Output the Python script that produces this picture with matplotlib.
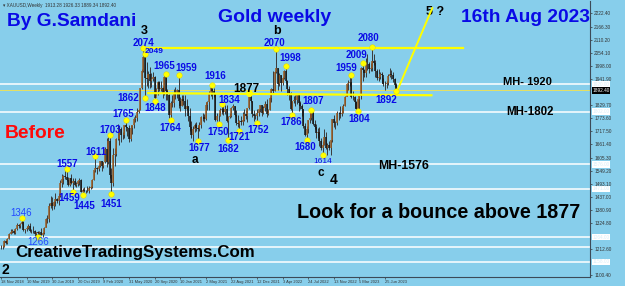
import matplotlib
matplotlib.use("Agg")
import matplotlib.pyplot as plt
import numpy as np

plt.rcParams['font.family'] = ['Liberation Sans', 'DejaVu Sans']

# weekly XAUUSD bars, week 0 = 18 Nov 2018
closes = [1223, 1222, 1248, 1238, 1257, 1279, 1285, 1289, 1282, 1298,
          1317, 1314, 1322, 1328, 1294, 1298, 1302, 1313, 1292, 1291,
          1290, 1276, 1286, 1280, 1286, 1275, 1283, 1305, 1341, 1341,
          1399, 1409, 1399, 1415, 1426, 1419, 1440, 1497, 1513, 1527,
          1520, 1507, 1488, 1516, 1497, 1504, 1488, 1490, 1504, 1511,
          1459, 1468, 1462, 1464, 1460, 1476, 1478, 1511, 1552, 1560,
          1557, 1571, 1589, 1570, 1584, 1643, 1585, 1674, 1530, 1498,
          1617, 1620, 1683, 1683, 1727, 1700, 1702, 1743, 1735, 1730,
          1684, 1730, 1743, 1771, 1774, 1799, 1810, 1902, 1975, 2035,
          1944, 1940, 1964, 1933, 1940, 1950, 1861, 1899, 1930, 1899,
          1902, 1879, 1951, 1889, 1871, 1788, 1839, 1839, 1881, 1883,
          1895, 1849, 1828, 1856, 1848, 1813, 1824, 1784, 1734, 1700,
          1727, 1745, 1733, 1728, 1744, 1777, 1777, 1769, 1832, 1844,
          1881, 1903, 1892, 1877, 1764, 1781, 1784, 1808, 1812, 1802,
          1814, 1763, 1779, 1781, 1817, 1827, 1788, 1754, 1750, 1761,
          1757, 1768, 1792, 1783, 1818, 1865, 1846, 1792, 1783, 1783,
          1798, 1811, 1829, 1797, 1817, 1835, 1791, 1807, 1859, 1898,
          1889, 1970, 1988, 1921, 1958, 1925, 1946, 1974, 1931, 1897,
          1883, 1811, 1846, 1853, 1850, 1871, 1840, 1827, 1811, 1742,
          1703, 1727, 1766, 1775, 1802, 1747, 1737, 1712, 1716, 1675,
          1644, 1660, 1695, 1644, 1657, 1645, 1681, 1771, 1751, 1754,
          1797, 1797, 1793, 1798, 1824, 1865, 1920, 1926, 1928, 1865,
          1865, 1842, 1811, 1856, 1868, 1989, 1978, 1969, 2007, 2004,
          1983, 1990, 2017, 2011, 1977, 1946, 1948, 1961, 1958, 1921,
          1919, 1925, 1955, 1962, 1959, 1943, 1914, 1892]
highs = [1230, 1229, 1250, 1252, 1261, 1284, 1298, 1298, 1297, 1303,
         1326, 1320, 1323, 1346, 1332, 1299, 1311, 1321, 1324, 1300,
         1310, 1295, 1288, 1290, 1289, 1303, 1287, 1306, 1348, 1358,
         1411, 1439, 1438, 1420, 1453, 1434, 1452, 1510, 1535, 1530,
         1555, 1557, 1522, 1518, 1535, 1519, 1516, 1499, 1506, 1517,
         1514, 1474, 1478, 1468, 1484, 1482, 1485, 1514, 1553, 1611,
         1563, 1575, 1590, 1592, 1588, 1649, 1689, 1692, 1703, 1560,
         1646, 1645, 1690, 1747, 1738, 1738, 1716, 1745, 1765, 1737,
         1745, 1745, 1746, 1779, 1789, 1818, 1815, 1905, 1984, 2075,
         2049, 2015, 1976, 1992, 1966, 1973, 1953, 1903, 1933, 1933,
         1932, 1912, 1960, 1966, 1900, 1876, 1848, 1875, 1897, 1906,
         1900, 1959, 1864, 1875, 1875, 1875, 1855, 1827, 1816, 1760,
         1740, 1755, 1756, 1740, 1758, 1785, 1797, 1790, 1845, 1846,
         1890, 1913, 1916, 1903, 1878, 1795, 1795, 1818, 1834, 1832,
         1832, 1832, 1781, 1795, 1823, 1834, 1828, 1809, 1787, 1764,
         1781, 1800, 1814, 1810, 1818, 1868, 1877, 1849, 1808, 1793,
         1815, 1814, 1831, 1831, 1828, 1848, 1854, 1815, 1865, 1902,
         1974, 1975, 2070, 1990, 1966, 1960, 1948, 1980, 1998, 1937,
         1910, 1885, 1849, 1870, 1874, 1875, 1879, 1848, 1834, 1812,
         1752, 1739, 1767, 1794, 1807, 1802, 1765, 1750, 1730, 1735,
         1688, 1674, 1729, 1714, 1668, 1675, 1682, 1772, 1787, 1760,
         1804, 1800, 1824, 1823, 1834, 1870, 1922, 1937, 1949, 1959,
         1890, 1870, 1846, 1858, 1870, 1993, 2009, 1985, 2032, 2048,
         2015, 2009, 2081, 2048, 2022, 1985, 1984, 1970, 1971, 1946,
         1935, 1935, 1963, 1987, 1982, 1971, 1947, 1926]
lows = [1214, 1212, 1221, 1234, 1235, 1256, 1276, 1280, 1279, 1276,
        1297, 1302, 1302, 1320, 1291, 1280, 1289, 1298, 1287, 1280,
        1283, 1270, 1266, 1266, 1267, 1273, 1267, 1278, 1306, 1324,
        1331, 1390, 1381, 1385, 1398, 1412, 1400, 1437, 1480, 1492,
        1513, 1506, 1485, 1484, 1490, 1459, 1483, 1480, 1484, 1487,
        1456, 1445, 1457, 1452, 1458, 1455, 1471, 1476, 1508, 1544,
        1536, 1546, 1563, 1547, 1562, 1582, 1563, 1576, 1518, 1451,
        1482, 1567, 1610, 1680, 1660, 1673, 1683, 1689, 1718, 1696,
        1670, 1677, 1704, 1733, 1756, 1763, 1795, 1808, 1900, 1970,
        1862, 1910, 1902, 1902, 1906, 1934, 1848, 1871, 1873, 1889,
        1890, 1860, 1875, 1850, 1853, 1775, 1764, 1823, 1820, 1855,
        1862, 1817, 1803, 1825, 1832, 1785, 1807, 1761, 1717, 1687,
        1677, 1714, 1719, 1677, 1721, 1730, 1760, 1756, 1768, 1808,
        1809, 1869, 1855, 1866, 1761, 1761, 1750, 1785, 1791, 1789,
        1790, 1758, 1682, 1773, 1777, 1808, 1782, 1745, 1737, 1721,
        1745, 1746, 1760, 1771, 1758, 1812, 1845, 1778, 1762, 1770,
        1753, 1785, 1802, 1783, 1790, 1806, 1780, 1788, 1807, 1842,
        1878, 1890, 1967, 1895, 1910, 1890, 1915, 1940, 1924, 1872,
        1850, 1807, 1787, 1838, 1828, 1836, 1805, 1814, 1784, 1732,
        1697, 1680, 1711, 1754, 1765, 1746, 1727, 1688, 1691, 1654,
        1639, 1614, 1659, 1641, 1617, 1639, 1617, 1670, 1737, 1727,
        1745, 1767, 1773, 1784, 1797, 1824, 1867, 1896, 1911, 1861,
        1852, 1819, 1809, 1804, 1809, 1858, 1934, 1949, 1950, 1981,
        1969, 1974, 1975, 2000, 1951, 1937, 1933, 1940, 1925, 1912,
        1893, 1902, 1918, 1952, 1943, 1928, 1907, 1889]

# pivot labels: week, price, text, label offset (px)
piv_weeks = [13, 23, 41, 45, 51, 69, 59, 68, 78, 90, 89, 90, 103, 111, 96, 106,
             123, 132, 138, 136, 149, 142, 160, 172, 178, 182, 194, 191, 201,
             219, 226, 232, 223, 247]
piv_prices = [1346, 1266, 1557, 1459, 1445, 1451, 1611, 1703, 1765, 1862, 2074, 2049,
              1965, 1959, 1848, 1764, 1677, 1916, 1834, 1750, 1721, 1682, 1752,
              2070, 1998, 1786, 1807, 1680, 1614, 1959, 2009, 2080, 1804, 1892]
piv_texts = [str(v) for v in piv_prices]
piv_dx = [-1, 0, 1, -4, 2, 0, 1, 0, -3, -17, 0, 9, -2, 8, 1, 0,
          1, 3, 7, 0, 0, 0, 1, -2, 4, -1, 2, -1, 0, -5, -6, -4, 1, -10]
piv_dy = [5, -5, 5, -6, -11, -10, 4, 5, 6, 0, 5, 2, 8, 7, -7, -8,
          -7, 9, 4, -8, -6, -9, -7, 6, 8, -7, 9, -7, -6, 7, 8, 9, -8, -9]

# Elliott wave counts
wave_weeks = [89.5, 172.5, 121, 200, 208, 3, 271]
wave_prices = [2147, 2147, 1594, 1539, 1509, 1123, 2228]
wave_texts = ['3', 'b', 'a', 'c', '4', '2', '5 ?']
wave_sizes = [9, 9, 8.5, 8.5, 10, 10, 9]

# support / resistance levels
mh_levels = [1920, 1802, 1576, 1471, 1264, 1222, 1158]
bid_price = 1892.40
top_line_weeks = [89, 289]
top_line_prices = [2075, 2075]
mid_line_weeks = [92, 269]
mid_line_prices = [1881, 1872]
up_line_weeks = [247, 269.5]
up_line_prices = [1881, 2245]

ytick_vals = [2222.40, 2166.30, 2110.20, 2054.10, 1998.00, 1941.90, 1829.70, 1773.60,
              1717.50, 1661.40, 1605.30, 1549.20, 1493.10, 1437.00, 1380.90, 1324.80,
              1212.60, 1100.40]
xtick_labels = ['18 Nov 2018', '10 Mar 2019', '30 Jun 2019', '20 Oct 2019', '9 Feb 2020',
                '31 May 2020', '20 Sep 2020', '10 Jan 2021', '2 May 2021', '22 Aug 2021',
                '12 Dec 2021', '3 Apr 2022', '24 Jul 2022', '13 Nov 2022', '5 Mar 2023',
                '25 Jun 2023']

W, H = 625, 286
BG = '#87ceeb'
BLUE = '#0a0ae6'

fig = plt.figure(figsize=(W / 100, H / 100), dpi=100, facecolor=BG)
ax = fig.add_axes([0, 1 - 277 / H, 590 / W, 276 / H], facecolor=BG)
ax.set_xlim(-0.625, 368.1)
ax.set_ylim(1093.6, 2275.6)


def px(x, y):
    return x / W, 1 - y / H


weeks = np.arange(len(closes))
c = np.array(closes, float)
o = np.r_[c[0], c[:-1]]
up = c >= o
for lv in mh_levels:
    ax.axhline(lv, color='white', lw=1.1, zorder=1)
ax.axhline(bid_price, color='#e8e060', lw=0.7, zorder=1)

ax.vlines(weeks, lows, highs, color='#3a3a3a', lw=0.7, zorder=2)
ax.vlines(weeks[up], o[up], c[up], color='#9a5a22', lw=1.1, zorder=3)
ax.vlines(weeks[~up], c[~up], o[~up], color='#151515', lw=1.1, zorder=3)

ax.plot(top_line_weeks, top_line_prices, color='#ffff00', lw=1.6, zorder=4)
ax.plot(mid_line_weeks, mid_line_prices, color='#ffff00', lw=1.6, zorder=4)
ax.plot(up_line_weeks, up_line_prices, color='#ffff00', lw=1.4, zorder=4)

ax.plot(piv_weeks, piv_prices, 'o', color='#ffff00', ms=4, mec='#e0d000', mew=0.3, zorder=5)
for wk, pr, t, dx, dy in zip(piv_weeks, piv_prices, piv_texts, piv_dx, piv_dy):
    bold, size, col = 'bold', 7, BLUE
    if t in ('1346', '1266'):
        bold, col = 'normal', '#2248ff'
    if t in ('1614', '2049'):
        size = 6
    if t == '1614':
        bold = 'normal'
    ax.annotate(t, (wk, pr), xytext=(dx * 0.72, dy * 0.72), textcoords='offset points',
                ha='center', va='center', fontsize=size, fontweight=bold, color=col, zorder=6)

ax.annotate('1877', (156, 1877), xytext=(-4 * 0.72, 5 * 0.72), textcoords='offset points',
            ha='center', va='center', fontsize=8.5, fontweight='bold', color='black', zorder=6)
ax.plot([155], [1880], 'o', color='#ffff00', ms=4, zorder=5)

for wk, pr, t, s in zip(wave_weeks, wave_prices, wave_texts, wave_sizes):
    ax.text(wk, pr, t, ha='center', va='center', fontsize=s, fontweight='bold', color='black')

# axes styling
for sp in ['left', 'top']:
    ax.spines[sp].set_visible(False)
ax.spines['right'].set_color('#3c4a58')
ax.spines['bottom'].set_color('#3c4a58')
ax.spines['right'].set_linewidth(0.8)
ax.spines['bottom'].set_linewidth(0.8)
ax.yaxis.tick_right()
ax.set_yticks(ytick_vals)
ax.set_yticklabels(['%.2f' % v for v in ytick_vals])
ax.tick_params(axis='y', labelsize=3.4, length=1.5, pad=1.5, colors='#333333', width=0.5)
ax.set_xticks(np.arange(len(xtick_labels)) * 16)
ax.set_xticklabels(xtick_labels, ha='left')
ax.tick_params(axis='x', labelsize=2.9, length=1.5, pad=0.8, colors='#333333', width=0.5)

# price boxes on the axis
for lv in mh_levels:
    if lv == 1222:
        continue
    ax.text(1.004, lv, '%.2f' % lv, transform=ax.get_yaxis_transform(), fontsize=3.4,
            va='center', ha='left', color='#d8eef8',
            bbox=dict(boxstyle='square,pad=0.15', fc='white', ec='none'), clip_on=False)
ax.text(1.004, bid_price, '%.2f' % bid_price, transform=ax.get_yaxis_transform(), fontsize=3.4,
        va='center', ha='left', color='white',
        bbox=dict(boxstyle='square,pad=0.15', fc='black', ec='none'), clip_on=False)

# free text
fig.text(*px(3, 5), '\u25be XAUUSD,Weekly  1913.28 1926.33 1889.34 1892.40', fontsize=3.3,
         color='#333333', va='center', ha='left')
fig.text(*px(7, 21), 'By G.Samdani', fontsize=13.8, fontweight='bold', color=BLUE, va='center', ha='left')
fig.text(*px(218, 17), 'Gold weekly', fontsize=14, fontweight='bold', color=BLUE, va='center', ha='left')
fig.text(*px(461, 17), '16th Aug 2023', fontsize=13.8, fontweight='bold', color=BLUE, va='center', ha='left')
fig.text(*px(5, 133), 'Before', fontsize=13.9, fontweight='bold', color='#ff0a0a', va='center', ha='left')
fig.text(*px(503, 82), 'MH- 1920', fontsize=8, fontweight='bold', color='black', va='center', ha='left')
fig.text(*px(506, 112), 'MH-1802', fontsize=8.3, fontweight='bold', color='black', va='center', ha='left')
fig.text(*px(378, 166), 'MH-1576', fontsize=8.8, fontweight='bold', color='black', va='center', ha='left')
fig.text(*px(297, 212), 'Look for a bounce above 1877', fontsize=14.2, fontweight='bold',
         color='black', va='center', ha='left')
fig.text(*px(15, 253), 'CreativeTradingSystems.Com', fontsize=12.2, fontweight='bold',
         color='black', va='center', ha='left')

fig.savefig('out.png', dpi=100, facecolor=BG)
